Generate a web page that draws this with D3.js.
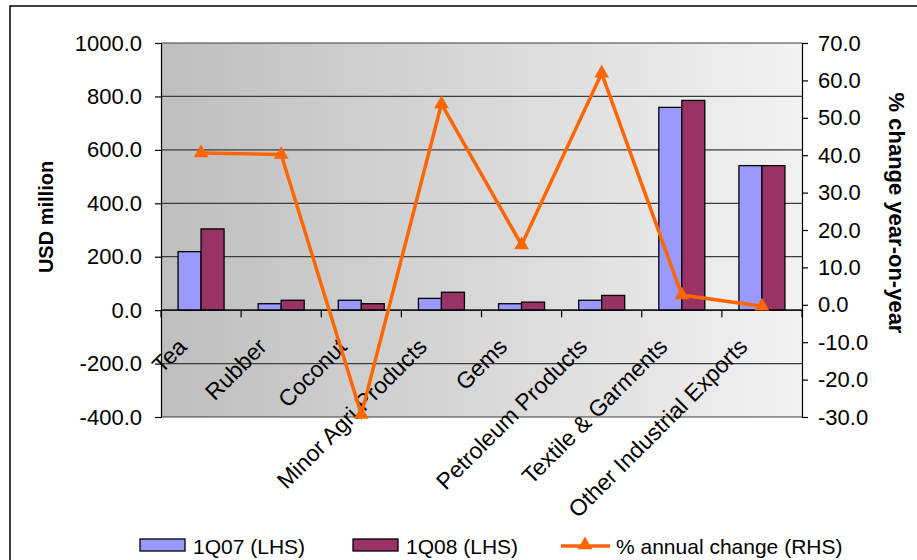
<!DOCTYPE html>
<html>
<head>
<meta charset="utf-8">
<script src="https://cdn.jsdelivr.net/npm/d3@7"></script>
<style>
  html, body { margin: 0; padding: 0; background: #fff; }
  svg { display: block; font-family: "Liberation Sans", Arial, sans-serif; }
</style>
</head>
<body>
<svg id="chart" width="917" height="560"></svg>
<script>
// Export categories
const categories = ["Tea", "Rubber", "Coconut", "Minor Agri Products", "Gems",
  "Petroleum Products", "Textile & Garments", "Other Industrial Exports"];
// USD million, first quarter
const q107 = [219, 24, 37, 44, 24, 37, 759, 541];
const q108 = [304, 37, 24, 67, 30, 55, 785, 541];
// % change year-on-year
const annualChange = [40.6, 40.2, -29.3, 53.7, 16.0, 61.9, 2.6, -0.4];
const leftTicks = [-400, -200, 0, 200, 400, 600, 800, 1000];
const rightTicks = [-30, -20, -10, 0, 10, 20, 30, 40, 50, 60, 70];
const seriesNames = ["1Q07 (LHS)", "1Q08 (LHS)", "% annual change (RHS)"];

const svg = d3.select("#chart");
const plot = { left: 161, right: 802, top: 43, bottom: 417 };

const x = d3.scaleBand().domain(categories).range([plot.left, plot.right]);
const yL = d3.scaleLinear().domain([-400, 1000]).range([plot.bottom, plot.top]);
const yR = d3.scaleLinear().domain([-30, 70]).range([plot.bottom, plot.top]);

// one decimal, plain hyphen for negatives
const fmt = d => d.toFixed(1);

// outer frame
svg.append("rect").attr("x", 10).attr("y", 6).attr("width", 930).attr("height", 600)
  .attr("fill", "none").attr("stroke", "#000").attr("stroke-width", 1.5);

// plot background gradient
const defs = svg.append("defs");
const grad = defs.append("linearGradient").attr("id", "bg").attr("x1", "0").attr("x2", "1").attr("y1", "0").attr("y2", "0");
grad.append("stop").attr("offset", "0").attr("stop-color", "#bebebe");
grad.append("stop").attr("offset", "1").attr("stop-color", "#f2f2f2");
svg.append("rect").attr("x", plot.left).attr("y", plot.top)
  .attr("width", plot.right - plot.left).attr("height", plot.bottom - plot.top)
  .attr("fill", "url(#bg)");

// horizontal gridlines
svg.append("g").selectAll("line").data(leftTicks).join("line")
  .attr("x1", plot.left).attr("x2", plot.right)
  .attr("y1", d => yL(d)).attr("y2", d => yL(d))
  .attr("stroke", "#3c3c3c").attr("stroke-width", 1.2);

// left axis
const leftAxis = svg.append("g").attr("transform", `translate(${plot.left},0)`)
  .call(d3.axisLeft(yL).tickValues(leftTicks).tickFormat(fmt).tickSize(6).tickPadding(13));
// right axis
const rightAxis = svg.append("g").attr("transform", `translate(${plot.right},0)`)
  .call(d3.axisRight(yR).tickValues(rightTicks).tickFormat(fmt).tickSize(6).tickPadding(10));
[leftAxis, rightAxis].forEach(a => {
  a.select(".domain").attr("stroke", "#000").attr("stroke-width", 1.2);
  a.selectAll(".tick line").attr("stroke", "#000").attr("stroke-width", 1.2);
  a.selectAll(".tick text").attr("fill", "#000").style("font-size", "22px")
    .style("font-family", "'Liberation Sans', Arial, sans-serif");
});

// bars
const inner = d3.scaleBand().domain([0, 1]).range([0, 46]);
const barColors = ["#9999ff", "#993366"];
const gBars = svg.append("g");
[q107, q108].forEach((vals, si) => {
  gBars.append("g").selectAll("rect").data(vals).join("rect")
    .attr("x", (d, i) => x(categories[i]) + x.bandwidth() / 2 - 23 + inner(si))
    .attr("y", d => yL(Math.max(0, d)))
    .attr("width", inner.bandwidth())
    .attr("height", d => Math.abs(yL(d) - yL(0)))
    .attr("fill", barColors[si]).attr("stroke", "#000").attr("stroke-width", 1.3);
});

// category axis along zero
const xAxis = svg.append("g").attr("transform", `translate(0,${yL(0)})`);
xAxis.append("line").attr("x1", plot.left).attr("x2", plot.right).attr("y1", 0).attr("y2", 0)
  .attr("stroke", "#000").attr("stroke-width", 1.2);
xAxis.selectAll("line.tk").data(d3.range(categories.length + 1)).join("line").attr("class", "tk")
  .attr("x1", i => plot.left + i * x.step()).attr("x2", i => plot.left + i * x.step())
  .attr("y1", 0).attr("y2", 7).attr("stroke", "#000").attr("stroke-width", 1.2);
xAxis.selectAll("text").data(categories).join("text")
  .attr("transform", d => `translate(${x(d) + x.bandwidth() / 2 - 13},${38}) rotate(-45)`)
  .attr("text-anchor", "end")
  .style("font-size", "23px").attr("fill", "#000")
  .text(d => d);

// annual change line
const line = d3.line().x((d, i) => x(categories[i]) + x.bandwidth() / 2).y(d => yR(d));
svg.append("path").datum(annualChange).attr("d", line)
  .attr("fill", "none").attr("stroke", "#ff6600").attr("stroke-width", 3.5).attr("stroke-linejoin", "miter");
const tri = d3.symbol().type(d3.symbolTriangle).size(95);
svg.append("g").selectAll("path").data(annualChange).join("path")
  .attr("transform", (d, i) => `translate(${x(categories[i]) + x.bandwidth() / 2},${yR(d)})`)
  .attr("d", tri).attr("fill", "#ff6600");

// axis titles
svg.append("text").attr("transform", "translate(53,217) rotate(-90)")
  .attr("text-anchor", "middle").style("font-size", "20px").style("font-weight", "bold")
  .text("USD million");
svg.append("text").attr("transform", "translate(889,213) rotate(90)")
  .attr("text-anchor", "middle").style("font-size", "22px").style("font-weight", "bold")
  .text("% change year-on-year");

// legend
const lg = svg.append("g");
const legendItems = [
  { x: 140, type: "bar", color: barColors[0] },
  { x: 353, type: "bar", color: barColors[1] },
  { x: 561, type: "line", color: "#ff6600" }
];
legendItems.forEach((it, i) => {
  if (it.type === "bar") {
    lg.append("rect").attr("x", it.x).attr("y", 539).attr("width", 45).attr("height", 12)
      .attr("fill", it.color).attr("stroke", "#000").attr("stroke-width", 1.3);
  } else {
    lg.append("line").attr("x1", it.x).attr("x2", it.x + 49).attr("y1", 546).attr("y2", 546)
      .attr("stroke", it.color).attr("stroke-width", 3.5);
    lg.append("path").attr("transform", `translate(${it.x + 24},545)`).attr("d", tri).attr("fill", it.color);
  }
  lg.append("text").attr("x", it.type === "bar" ? it.x + 53 : it.x + 55).attr("y", 554)
    .style("font-size", "21px").attr("fill", "#000").text(seriesNames[i]);
});
</script>
</body>
</html>
